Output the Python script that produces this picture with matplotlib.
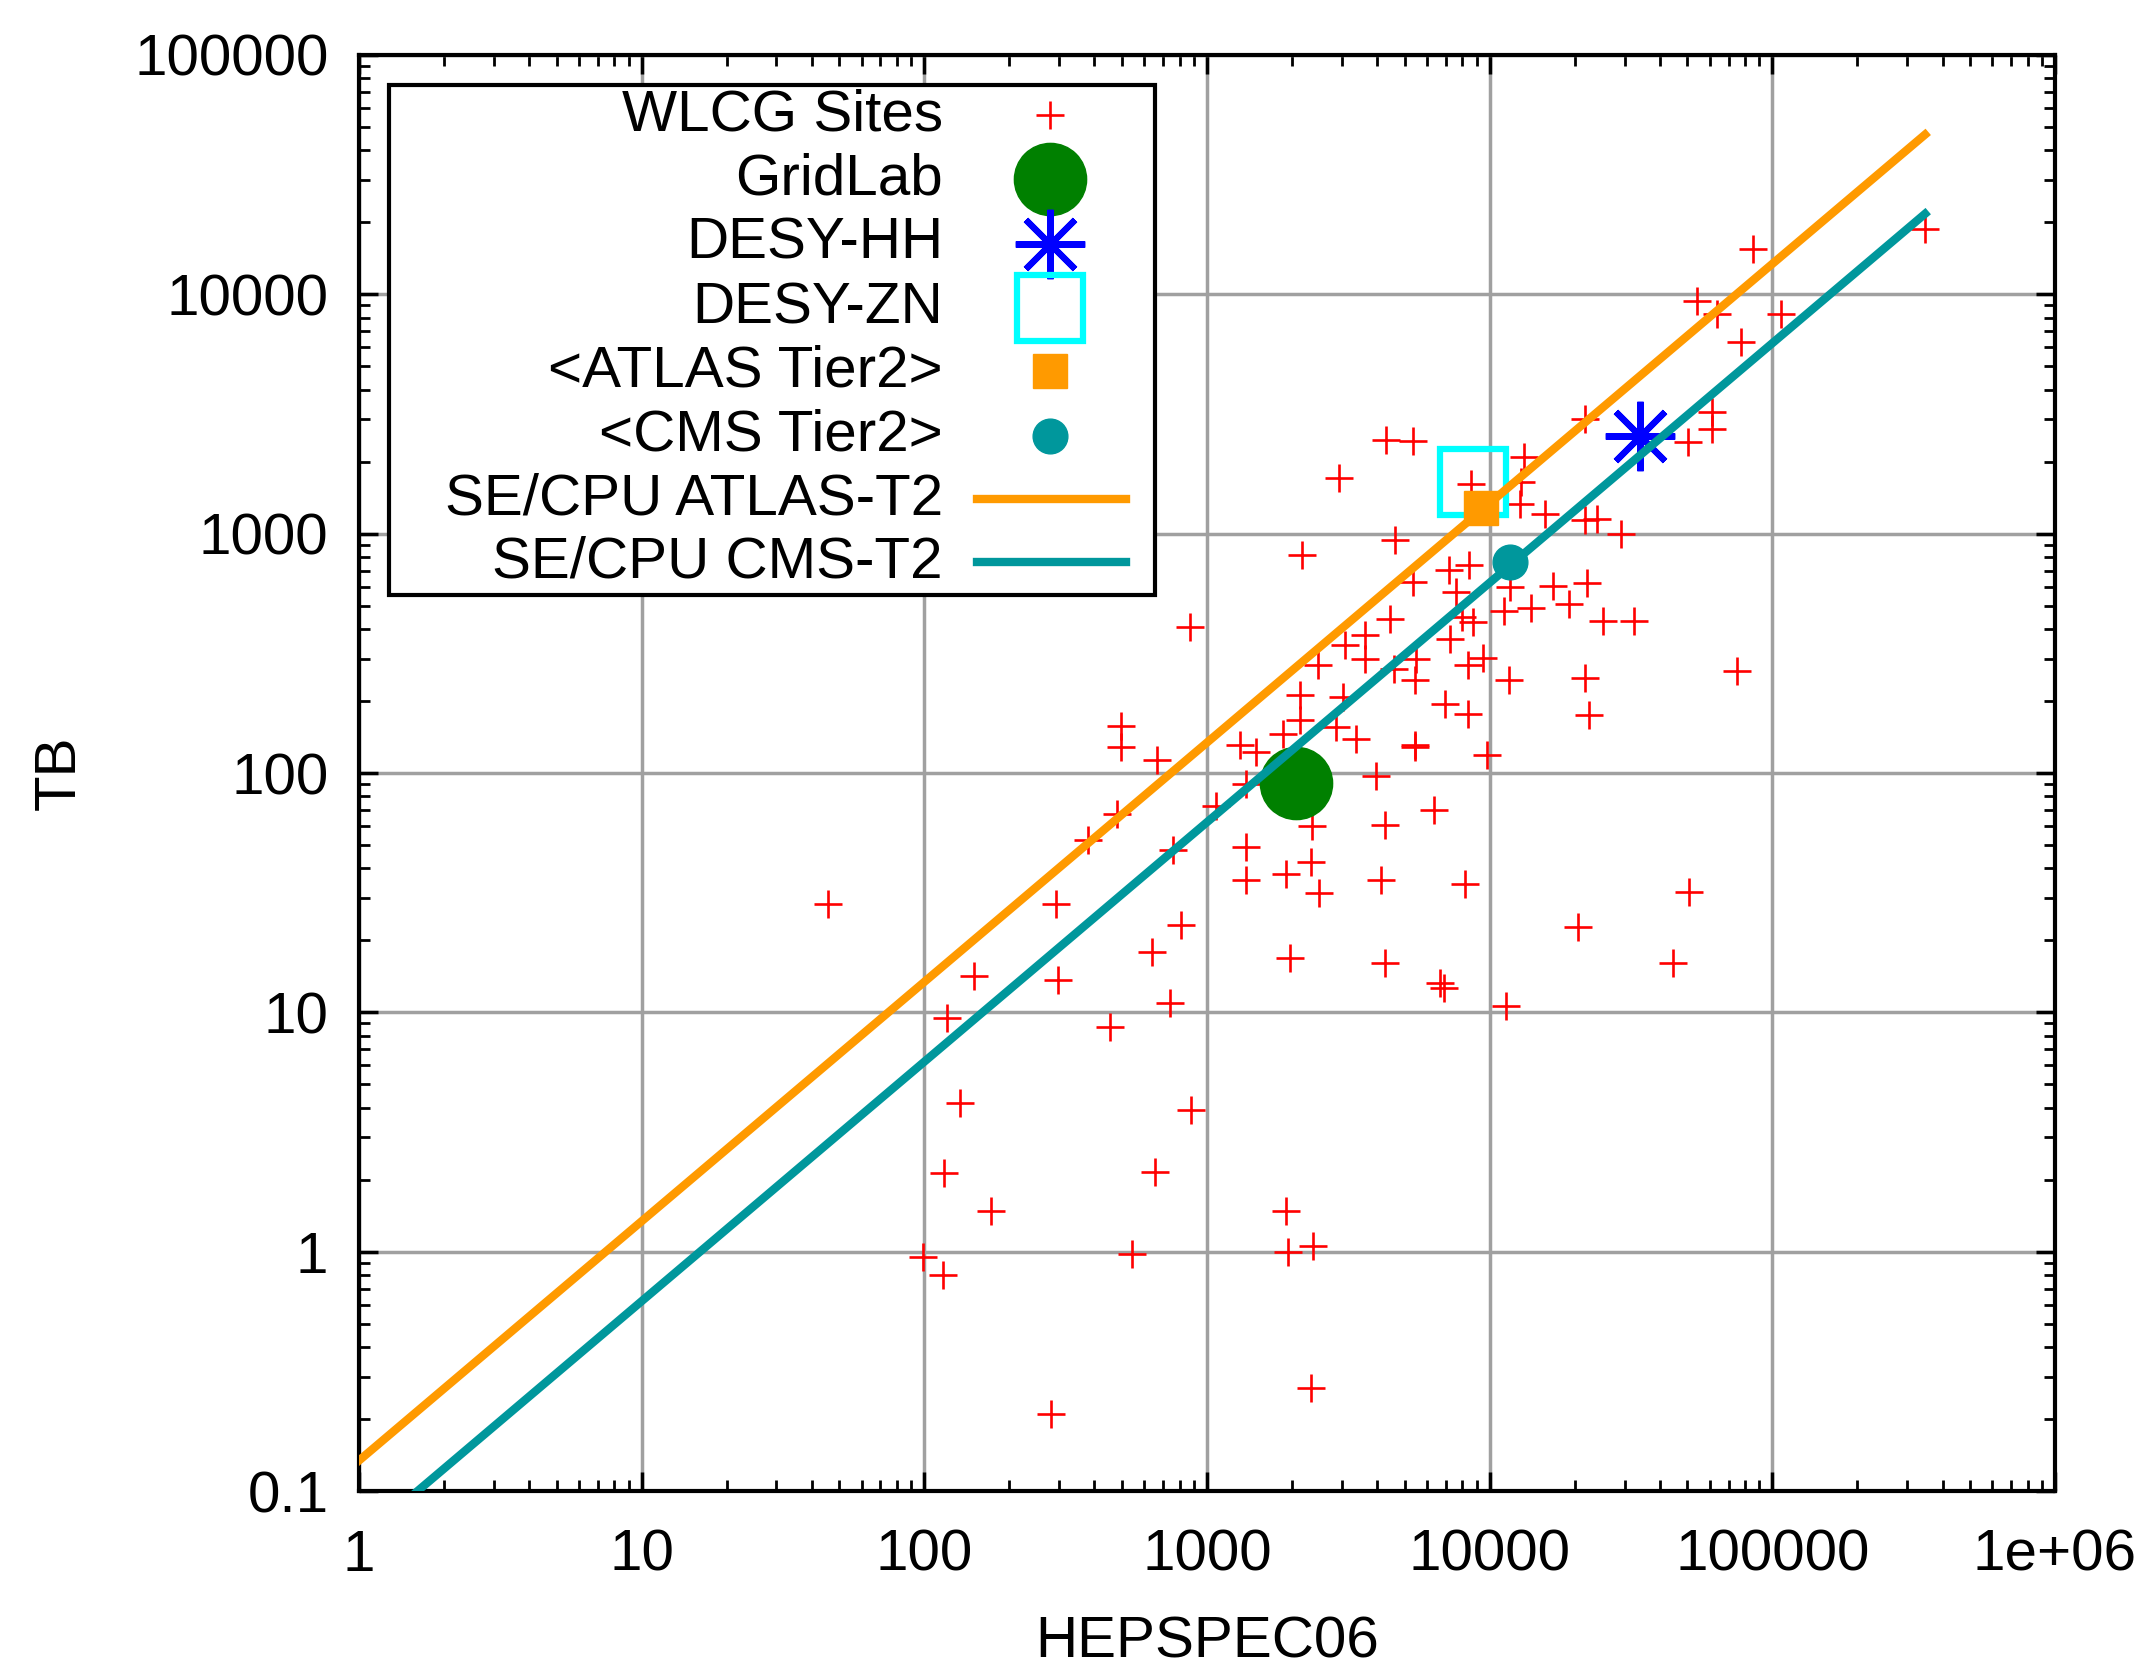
import numpy as np
from matplotlib import pyplot as plt
from matplotlib.patches import Rectangle
from matplotlib.ticker import FixedLocator, FixedFormatter, NullFormatter, LogLocator

plt.rcParams['font.family'] = ['Liberation Sans', 'DejaVu Sans']

# WLCG sites: HEPSPEC06 vs TB
SITES_HS = [45.5, 99, 116, 117, 120, 134, 150, 172, 280, 293, 297, 379, 453, 479,
            498, 498, 541, 641, 655, 667, 741, 757, 810, 868, 876,
            1079, 1306, 1378, 1378, 1378, 1497, 1857, 1897, 1900, 1940, 1971,
            2127, 2127, 2173, 2330, 2338, 2349, 2370, 2473, 2483, 2870, 2930,
            3025, 3070, 3373, 3614, 3614, 3972, 4140, 4252, 4252, 4305, 4425,
            4570, 4614, 5360, 5360, 5430, 5460, 5460, 5510, 6350, 6650, 6900,
            6930, 7210, 7260, 7620, 7960, 8160, 8370, 8370, 8440, 8610, 8730,
            9500, 9790, 11200, 11400, 11800, 11670, 12950, 12800, 13200, 14000,
            15700, 16800, 19100, 20600, 21800, 21800, 21800, 22100, 22400,
            24000, 25200, 29100, 32300, 44700, 50400, 50900, 54200, 61100,
            61100, 63600, 74700, 77400, 85400, 107000, 347000]
SITES_TB = [28.3, 0.95, 0.80, 2.13, 9.5, 4.2, 14.2, 1.48, 0.21, 28.3, 13.7, 52.5, 8.7, 67.4,
            157, 128, 0.98, 17.8, 2.15, 113, 10.9, 47.9, 23.2, 408, 3.9,
            72.6, 131, 90, 49, 35.6, 122, 146, 38, 1.48, 1.0, 16.8,
            166, 211, 811, 0.27, 42.5, 60, 1.06, 282, 31.6, 156, 1709,
            208, 341, 139, 376, 300, 97, 35.8, 60.4, 16, 2455, 441,
            273, 938, 2432, 628, 131, 244, 128, 300, 70.3, 13.2, 12.6,
            195, 703, 364, 570, 449, 34.5, 177, 282, 738, 1618, 428,
            303, 119, 477, 10.6, 600, 244, 1644, 1334, 2090, 490,
            1205, 604, 510, 22.8, 249, 3020, 1140, 621, 175,
            1150, 431, 1000, 431, 16.1, 2415, 31.9, 9350, 3220,
            2750, 8300, 268, 6320, 15500, 8300, 18800]

GRIDLAB = (2070, 91)
DESY_HH = (34000, 2560)
DESY_ZN = (8730, 1637)
ATLAS_T2 = (9330, 1274)
CMS_T2 = (11800, 762)

# SE/CPU lines, end points
LINE_X = [1, 3.47e5]
ATLAS_LINE_Y = [0.134, 46500]
CMS_LINE_Y = [0.062, 21700]

XTICKS = [1, 10, 100, 1000, 10000, 100000, 1e6]
XLABELS = ['1', '10', '100', '1000', '10000', '100000', '1e+06']
YTICKS = [0.1, 1, 10, 100, 1000, 10000, 100000]
YLABELS = ['0.1', '1', '10', '100', '1000', '10000', '100000']

ORANGE = '#ff9a00'
TEAL = '#00979c'
FS = 42

styles = {
    'WLCG Sites': dict(linestyle='', marker='+', color='#ff0000', markersize=20,
                       markeredgewidth=1.9),
    'GridLab': dict(linestyle='', marker='o', color='#008000', markersize=52),
    'DESY-HH': dict(linestyle='', marker=(8, 2, 0), color='#0000ff', markersize=50,
                    markeredgewidth=4.5),
    'DESY-ZN': dict(linestyle='', marker='s', markerfacecolor='none',
                    markeredgecolor='#00ffff', markersize=48, markeredgewidth=4.5),
    '<ATLAS Tier2>': dict(linestyle='', marker='s', color=ORANGE, markersize=24),
    '<CMS Tier2>': dict(linestyle='', marker='o', color=TEAL, markersize=25),
    'SE/CPU ATLAS-T2': dict(color=ORANGE, linewidth=6),
    'SE/CPU CMS-T2': dict(color=TEAL, linewidth=6),
}

fig = plt.figure(figsize=(21.48, 16.71), dpi=100)
ax = fig.add_axes([0.1671, 0.1077, 0.7896, 0.8594])

ax.plot(SITES_HS, SITES_TB, zorder=3, **styles['WLCG Sites'])
ax.plot(*GRIDLAB, zorder=4, **styles['GridLab'])
ax.plot(*DESY_HH, zorder=4, **styles['DESY-HH'])
ax.plot(*DESY_ZN, zorder=4, **styles['DESY-ZN'])
ax.plot(*ATLAS_T2, zorder=4, **styles['<ATLAS Tier2>'])
ax.plot(*CMS_T2, zorder=4, **styles['<CMS Tier2>'])
ax.plot(LINE_X, ATLAS_LINE_Y, zorder=5, **styles['SE/CPU ATLAS-T2'])
ax.plot(LINE_X, CMS_LINE_Y, zorder=5, **styles['SE/CPU CMS-T2'])

ax.set_xscale('log')
ax.set_yscale('log')
ax.set_xlim(1, 1e6)
ax.set_ylim(0.1, 1e5)

ax.xaxis.set_major_locator(FixedLocator(XTICKS))
ax.xaxis.set_major_formatter(FixedFormatter(XLABELS))
ax.yaxis.set_major_locator(FixedLocator(YTICKS))
ax.yaxis.set_major_formatter(FixedFormatter(YLABELS))
ax.xaxis.set_minor_locator(LogLocator(base=10, subs=np.arange(2, 10), numticks=20))
ax.yaxis.set_minor_locator(LogLocator(base=10, subs=np.arange(2, 10), numticks=20))
ax.xaxis.set_minor_formatter(NullFormatter())
ax.yaxis.set_minor_formatter(NullFormatter())

ax.tick_params(which='both', direction='in', top=True, right=True, color='black')
ax.tick_params(which='major', length=14, width=2.5, labelsize=FS)
ax.tick_params(which='minor', length=8, width=2)
ax.tick_params(axis='x', which='major', pad=27)
ax.tick_params(axis='y', which='major', pad=22)

ax.grid(True, which='major', color='#a0a0a0', linewidth=2.5)
ax.set_axisbelow(True)
for s in ax.spines.values():
    s.set_linewidth(3)

ax.set_xlabel('HEPSPEC06', fontsize=FS, labelpad=24)
ax.set_ylabel('TB', fontsize=FS, labelpad=34)

# gnuplot-like key: labels right aligned, sample to the right
ax.add_patch(Rectangle((0.0177, 0.624), 0.4516, 0.3551, transform=ax.transAxes,
                       facecolor='white', edgecolor='black', linewidth=3,
                       zorder=8, clip_on=False))
rows = [0.9582, 0.9136, 0.8684, 0.8238, 0.7799, 0.7347, 0.6908, 0.6469]
for (name, st), yy in zip(styles.items(), rows):
    ax.text(0.3443, yy, name, transform=ax.transAxes, ha='right', va='center',
            fontsize=FS, zorder=9)
    if st.get('linestyle', '-') == '':
        ax.plot([0.4074], [yy], transform=ax.transAxes, clip_on=False, zorder=9, **st)
    else:
        ax.plot([0.3644, 0.4522], [yy, yy], transform=ax.transAxes, clip_on=False,
                zorder=9, **st)

fig.savefig('out.png', dpi=100)
